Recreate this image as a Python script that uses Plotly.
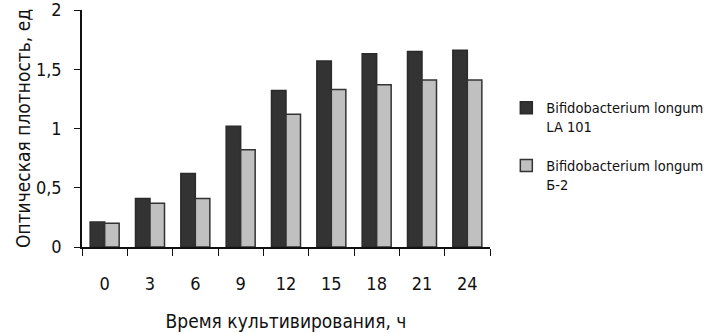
import plotly.graph_objects as go

hours = ["0", "3", "6", "9", "12", "15", "18", "21", "24"]
la101 = [0.21, 0.41, 0.62, 1.02, 1.32, 1.57, 1.63, 1.65, 1.66]
b2 = [0.20, 0.37, 0.41, 0.82, 1.12, 1.33, 1.37, 1.41, 1.41]
series_names = ["Bifidobacterium longum<br>LA 101", "Bifidobacterium longum<br>Б-2"]

FONT = "DejaVu Sans Condensed, Liberation Sans Narrow, sans-serif"

fig = go.Figure()
fig.add_trace(go.Bar(x=hours, y=la101, name=series_names[0], legendgroup="g1",
                     marker=dict(color="#333333", line=dict(color="#2a2a2a", width=1.5))))
fig.add_trace(go.Bar(x=hours, y=b2, name=series_names[1], legendgroup="g2",
                     marker=dict(color="#c0c0c0", line=dict(color="#333333", width=1.5))))

fig.update_layout(
    width=711, height=333,
    margin=dict(l=82, r=221, t=10, b=86, autoexpand=False),
    paper_bgcolor="white", plot_bgcolor="white",
    separators=", ",
    barmode="group", bargap=0.36, bargroupgap=0,
    font=dict(family=FONT, size=18, color="#111111"),
    legend=dict(x=1.04, y=0.655, xanchor="left", yanchor="top",
                font=dict(size=14.5, family=FONT), tracegroupgap=17,
                itemwidth=30, valign="top"),
    showlegend=True,
)
fig.update_xaxes(
    automargin=False,
    showline=True, linecolor="#111111", linewidth=1.5,
    ticks="outside", tickson="boundaries", ticklen=7, tickcolor="#111111",
    ticklabelstandoff=20,
    title=dict(text="Время культивирования, ч", font=dict(size=19), standoff=21),
    showgrid=False,
)
fig.update_yaxes(
    automargin=False, ticklabeloverflow="allow",
    range=[0, 2], dtick=0.5, showline=True, linecolor="#111111", linewidth=1.5,
    ticks="outside", ticklen=6, tickcolor="#111111", ticklabelstandoff=9,
    title=dict(text="Оптическая плотность, ед", font=dict(size=19), standoff=0),
    showgrid=False, zeroline=False,
)

fig.write_html("out.html", post_script="document.body.style.margin='0';",
               config={"displayModeBar": False})
